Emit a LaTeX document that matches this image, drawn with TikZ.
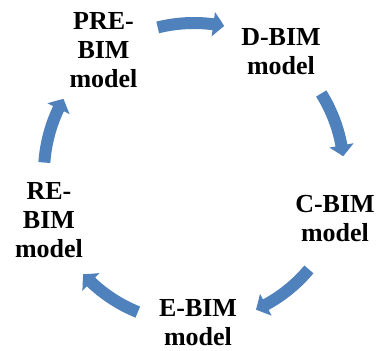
\documentclass[tikz,border=0pt]{standalone}
\usepackage{fontspec}
\setmainfont{Liberation Serif}
\usetikzlibrary{arrows.meta,bending}
\definecolor{arrowblue}{HTML}{4F81BD}
\begin{document}
\begin{tikzpicture}[x=1pt,y=1pt,
  lbl/.style={font=\fontsize{26}{29}\selectfont\bfseries, align=center, inner sep=0pt, anchor=north},
  cyc/.style={draw=arrowblue, line width=12pt, -{Triangle[length=11pt,width=24pt,bend]}}]
\useasboundingbox[fill=white] (0,0) rectangle (378,351);
\coordinate (c) at (194,178);
\node[lbl] (pre) at (103.5,339) {PRE-\\BIM\\model};
\node[lbl] (d) at (281,323) {D-BIM\\model};
\node[lbl] (cb) at (335,156) {C-BIM\\model};
\node[lbl] (e) at (198,52) {E-BIM\\model};
\node[lbl] (re) at (49,169) {RE-\\BIM\\model};
\draw[cyc] ([shift={(104:150)}]c) arc[start angle=104, end angle=78.4, radius=150];
\draw[cyc] ([shift={(32:150)}]c) arc[start angle=32, end angle=6.4, radius=150];
\draw[cyc] ([shift={(-40:150)}]c) arc[start angle=-40, end angle=-65.6, radius=150];
\draw[cyc] ([shift={(-112:150)}]c) arc[start angle=-112, end angle=-137.6, radius=150];
\draw[cyc] ([shift={(176:150)}]c) arc[start angle=176, end angle=150.4, radius=150];
\end{tikzpicture}
\end{document}
